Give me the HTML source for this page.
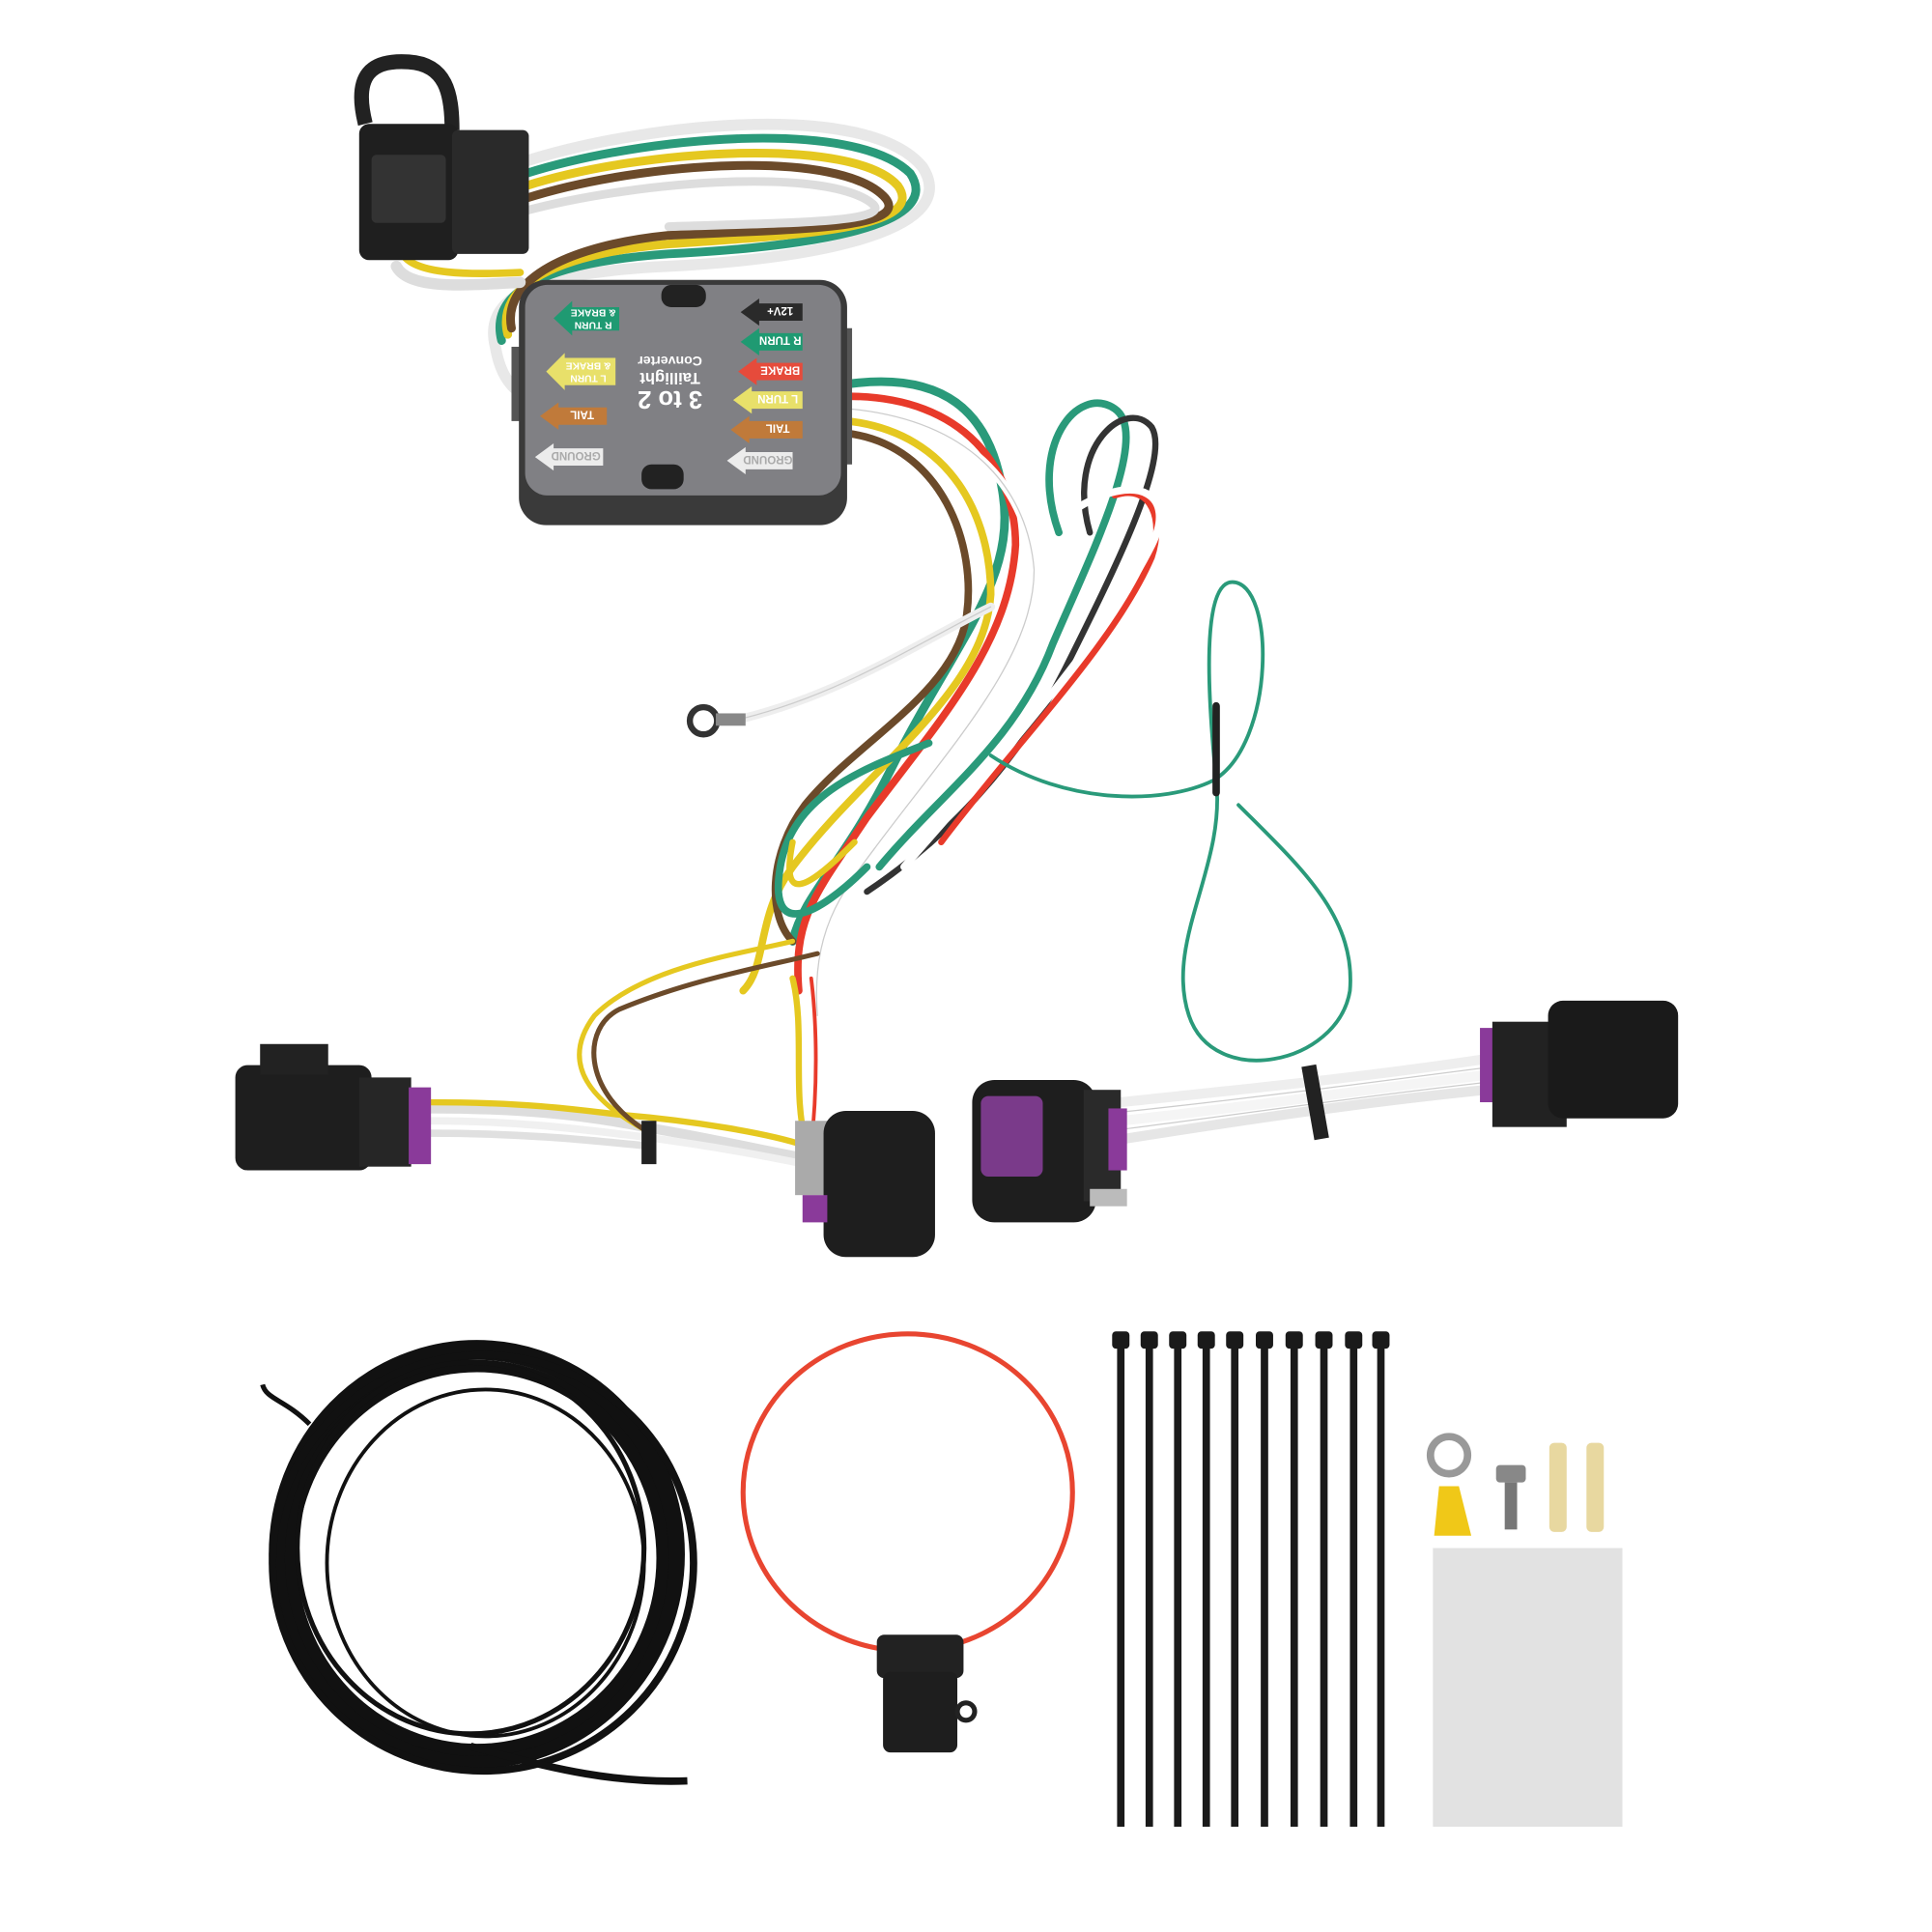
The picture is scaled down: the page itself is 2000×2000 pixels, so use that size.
<!DOCTYPE html>
<html><head><meta charset="utf-8"><style>
html,body{margin:0;padding:0;background:#fff;}
svg{display:block;}
text{font-family:"Liberation Sans",sans-serif;font-weight:bold;}
</style></head><body>
<svg width="2000" height="2000" viewBox="0 0 1560 1560" xmlns="http://www.w3.org/2000/svg">
<rect width="1560" height="1560" fill="#fff"/>
<g fill="none" stroke-linecap="round">
<path d="M425 130 C520 100 700 80 745 135 C780 190 640 210 540 215 C430 220 390 240 400 280 C405 310 420 320 430 320" stroke="#e8e8e8" stroke-width="9"/>
<path d="M425 140 C520 110 690 95 735 140 C765 185 640 200 540 205 C440 212 395 235 405 275" stroke="#2a9a7a" stroke-width="7"/>
<path d="M425 150 C520 120 690 110 725 150 C750 185 640 190 540 197 C450 205 400 230 410 270" stroke="#e5c820" stroke-width="7"/>
<path d="M425 160 C520 130 680 120 715 160 C735 185 640 185 540 190 C460 198 405 225 413 265" stroke="#6b4a2a" stroke-width="7"/>
<path d="M425 170 C520 145 670 135 705 165 C720 180 630 180 540 183" stroke="#ddd" stroke-width="7"/>
<path d="M320 215 C330 235 380 230 420 228" stroke="#ddd" stroke-width="9"/>
<path d="M325 205 C335 222 380 222 420 220" stroke="#e5c820" stroke-width="6"/>
<path d="M685 310 C760 300 800 330 810 400 C820 470 770 520 720 620 C680 700 650 720 640 760" stroke="#2a9a7a" stroke-width="7"/>
<path d="M685 320 C780 320 820 380 820 440 C815 520 760 580 700 660 C660 720 640 740 645 800" stroke="#e83a2a" stroke-width="6"/>
<path d="M685 330 C790 340 830 400 835 460 C835 530 770 600 710 680 C680 720 655 750 660 820" stroke="#fff" stroke-width="7"/>
<path d="M685 330 C790 340 830 400 835 460 C835 530 770 600 710 680 C680 720 655 750 660 820" stroke="#ccc" stroke-width="1"/>
<path d="M685 340 C770 350 800 420 800 480 C795 560 700 620 640 700 C610 740 620 780 600 800" stroke="#e5c820" stroke-width="6"/>
<path d="M685 350 C760 360 790 440 780 500 C770 560 690 600 650 650 C620 690 620 740 640 760" stroke="#6b4a2a" stroke-width="6"/>
<path d="M855 430 C830 360 870 310 900 330 C930 350 880 450 850 520 C820 600 760 640 710 700" stroke="#2a9a7a" stroke-width="6"/>
<path d="M880 430 C860 360 910 320 930 345 C945 370 900 460 860 540 C820 620 760 680 700 720" stroke="#333" stroke-width="5"/>
<path d="M900 400 C930 390 940 420 930 450 C900 520 820 600 760 680" stroke="#e83a2a" stroke-width="5"/>
<path d="M870 410 C920 380 950 400 930 440 C890 520 800 620 730 700" stroke="#fff" stroke-width="6"/>
<path d="M700 700 C660 740 620 760 630 700 C640 640 700 620 750 600" stroke="#2a9a7a" stroke-width="6"/>
<path d="M690 680 C650 720 630 730 640 680" stroke="#e5c820" stroke-width="5"/>
<path d="M600 580 C680 560 740 520 800 490" stroke="#eee" stroke-width="7"/>
<path d="M600 580 C680 560 740 520 800 490" stroke="#ccc" stroke-width="1"/>
<path d="M800 610 C860 650 940 650 980 630 C1030 600 1030 470 995 470 C970 470 975 560 982 630 C990 700 940 760 960 820 C980 880 1080 860 1090 800 C1095 740 1050 700 1000 650" stroke="#2a9a7a" stroke-width="3"/>
<path d="M982 570 L982 640" stroke="#222" stroke-width="6"/>
<path d="M345 895 C420 895 470 900 520 910 C580 920 620 930 650 935" stroke="#ddd" stroke-width="8"/>
<path d="M345 905 C420 905 470 912 520 918 C580 926 620 934 650 940" stroke="#f0f0f0" stroke-width="6"/>
<path d="M345 915 C420 915 470 920 520 925" stroke="#e0e0e0" stroke-width="6"/>
<path d="M345 890 C420 890 460 895 500 900 C560 905 620 915 650 925" stroke="#e5c820" stroke-width="5"/>
<path d="M520 912 C480 890 450 860 480 820 C520 780 600 770 640 760" stroke="#e5c820" stroke-width="4"/>
<path d="M520 912 C470 880 470 830 500 815 C560 790 620 780 660 770" stroke="#6b4a2a" stroke-width="4"/>
<path d="M650 920 C640 880 650 830 640 790" stroke="#e5c820" stroke-width="5"/>
<path d="M655 925 C660 880 660 830 655 790" stroke="#e83a2a" stroke-width="3"/>
<path d="M905 890 C1000 880 1100 870 1200 855" stroke="#eee" stroke-width="8"/>
<path d="M905 905 C1000 895 1100 880 1200 868" stroke="#f5f5f5" stroke-width="8"/>
<path d="M905 920 C1000 905 1100 890 1200 880" stroke="#e6e6e6" stroke-width="8"/>
<path d="M905 898 C1000 888 1100 875 1200 862" stroke="#ccc" stroke-width="1"/>
<path d="M905 912 C1000 900 1100 885 1200 874" stroke="#ccc" stroke-width="1"/>
</g>
<path d="M295 100 C285 60 300 48 330 50 C360 52 365 75 365 105" fill="none" stroke="#222" stroke-width="12"/>
<rect x="290" y="100" width="80" height="110" rx="8" fill="#1f1f1f"/>
<rect x="365" y="105" width="62" height="100" rx="5" fill="#2a2a2a"/>
<rect x="300" y="125" width="60" height="55" rx="4" fill="#333"/>
<!-- converter box -->
<rect x="413" y="280" width="12" height="60" fill="#555"/>
<rect x="676" y="265" width="12" height="110" fill="#555"/>
<rect x="419" y="226" width="265" height="198" rx="22" fill="#3a3a3a"/>
<rect x="424" y="230" width="255" height="170" rx="18" fill="#808084"/>
<rect x="534" y="230" width="36" height="18" rx="8" fill="#222"/>
<rect x="518" y="375" width="34" height="20" rx="8" fill="#222"/>
<text transform="rotate(180 541 323)" x="541" y="330" font-size="20" fill="#fff" text-anchor="middle">3 to 2</text>
<text transform="rotate(180 541 306)" x="541" y="311" font-size="13" fill="#fff" text-anchor="middle">Taillight</text>
<text transform="rotate(180 541 292)" x="541" y="296" font-size="11" fill="#fff" text-anchor="middle">Converter</text>
<!-- right column arrows (point left) -->
<path d="M598 252 L613 241 L613 245 L648 245 L648 259 L613 259 L613 263 Z" fill="#2a2a2a"/>
<text transform="rotate(180 630 252)" x="630" y="256" font-size="9" fill="#fff" text-anchor="middle">12V+</text>
<path d="M598 276 L613 265 L613 269 L648 269 L648 283 L613 283 L613 287 Z" fill="#1f9a72"/>
<text transform="rotate(180 630 276)" x="630" y="280" font-size="9" fill="#fff" text-anchor="middle">R TURN</text>
<path d="M596 300 L611 289 L611 293 L648 293 L648 307 L611 307 L611 311 Z" fill="#e64b3b"/>
<text transform="rotate(180 630 300)" x="630" y="304" font-size="9" fill="#fff" text-anchor="middle">BRAKE</text>
<path d="M592 323 L607 312 L607 316 L648 316 L648 330 L607 330 L607 334 Z" fill="#e8e06a"/>
<text transform="rotate(180 628 323)" x="628" y="327" font-size="9" fill="#fff" text-anchor="middle">L TURN</text>
<path d="M590 347 L605 336 L605 340 L648 340 L648 354 L605 354 L605 358 Z" fill="#c07a3a"/>
<text transform="rotate(180 628 347)" x="628" y="351" font-size="9" fill="#fff" text-anchor="middle">TAIL</text>
<path d="M587 372 L602 361 L602 365 L640 365 L640 379 L602 379 L602 383 Z" fill="#ececec"/>
<text transform="rotate(180 620 372)" x="620" y="376" font-size="9" fill="#aaa" text-anchor="middle">GROUND</text>
<!-- left column -->
<path d="M447 257 L462 243 L462 248 L500 248 L500 267 L462 267 L462 271 Z" fill="#1f9a72"/>
<text transform="rotate(180 479 257)" x="479" y="254" font-size="8" fill="#fff" text-anchor="middle">R TURN</text>
<text transform="rotate(180 479 257)" x="479" y="264" font-size="8" fill="#fff" text-anchor="middle">&amp; BRAKE</text>
<path d="M441 300 L456 285 L456 289 L497 289 L497 311 L456 311 L456 315 Z" fill="#e8e06a"/>
<text transform="rotate(180 475 300)" x="475" y="297" font-size="8" fill="#fff" text-anchor="middle">L TURN</text>
<text transform="rotate(180 475 300)" x="475" y="307" font-size="8" fill="#fff" text-anchor="middle">&amp; BRAKE</text>
<path d="M436 336 L451 325 L451 329 L490 329 L490 343 L451 343 L451 347 Z" fill="#c07a3a"/>
<text transform="rotate(180 470 336)" x="470" y="340" font-size="9" fill="#fff" text-anchor="middle">TAIL</text>
<path d="M432 369 L447 358 L447 362 L487 362 L487 376 L447 376 L447 380 Z" fill="#ececec"/>
<text transform="rotate(180 465 369)" x="465" y="373" font-size="9" fill="#aaa" text-anchor="middle">GROUND</text>
<circle cx="568" cy="582" r="11" fill="none" stroke="#333" stroke-width="5"/>
<rect x="578" y="576" width="24" height="10" fill="#888"/>
<rect x="190" y="860" width="110" height="85" rx="10" fill="#1e1e1e"/>
<rect x="210" y="843" width="55" height="25" fill="#222"/>
<rect x="290" y="870" width="42" height="72" fill="#262626"/>
<rect x="330" y="878" width="18" height="62" fill="#8a3a9a"/>
<rect x="642" y="905" width="45" height="60" fill="#aaa"/>
<rect x="665" y="897" width="90" height="118" rx="18" fill="#1e1e1e"/>
<rect x="648" y="965" width="20" height="22" fill="#8a3a9a"/>
<rect x="785" y="872" width="100" height="115" rx="18" fill="#1e1e1e"/>
<rect x="792" y="885" width="50" height="65" rx="6" fill="#7a3a8a"/>
<rect x="875" y="880" width="30" height="90" fill="#2a2a2a"/>
<rect x="895" y="895" width="15" height="50" fill="#8a3a9a"/>
<rect x="880" y="960" width="30" height="14" fill="#bbb"/>
<rect x="1195" y="830" width="18" height="60" fill="#8a3a9a"/>
<rect x="1205" y="825" width="60" height="85" fill="#222"/>
<rect x="1250" y="808" width="105" height="95" rx="12" fill="#1a1a1a"/>
<rect x="1056" y="860" width="12" height="60" fill="#222" transform="rotate(-10 1062 890)"/>
<rect x="518" y="905" width="12" height="35" fill="#222"/>
<g fill="none" stroke="#111">
<ellipse cx="385" cy="1255" rx="160" ry="165" stroke-width="16"/>
<ellipse cx="385" cy="1258" rx="150" ry="155" stroke-width="10"/>
<ellipse cx="390" cy="1262" rx="170" ry="168" stroke-width="6"/>
<ellipse cx="380" cy="1250" rx="140" ry="150" stroke-width="4"/>
<ellipse cx="392" cy="1262" rx="128" ry="140" stroke-width="3"/>
<path d="M380 1410 C450 1430 500 1440 555 1438" stroke-width="6"/>
<path d="M250 1150 C230 1130 215 1130 212 1118" stroke-width="4"/>
</g>
<ellipse cx="733" cy="1205" rx="133" ry="128" fill="none" stroke="#e84530" stroke-width="4"/>
<rect x="708" y="1320" width="70" height="35" rx="6" fill="#222"/>
<rect x="713" y="1350" width="60" height="65" rx="6" fill="#1e1e1e"/>
<circle cx="780" cy="1382" r="7" fill="none" stroke="#222" stroke-width="4"/>
<g fill="#1a1a1a">
<rect x="898" y="1075" width="14" height="14" rx="3"/><rect x="902" y="1085" width="6" height="390"/>
<rect x="921" y="1075" width="14" height="14" rx="3"/><rect x="925" y="1085" width="6" height="390"/>
<rect x="944" y="1075" width="14" height="14" rx="3"/><rect x="948" y="1085" width="6" height="390"/>
<rect x="967" y="1075" width="14" height="14" rx="3"/><rect x="971" y="1085" width="6" height="390"/>
<rect x="990" y="1075" width="14" height="14" rx="3"/><rect x="994" y="1085" width="6" height="390"/>
<rect x="1014" y="1075" width="14" height="14" rx="3"/><rect x="1018" y="1085" width="6" height="390"/>
<rect x="1038" y="1075" width="14" height="14" rx="3"/><rect x="1042" y="1085" width="6" height="390"/>
<rect x="1062" y="1075" width="14" height="14" rx="3"/><rect x="1066" y="1085" width="6" height="390"/>
<rect x="1086" y="1075" width="14" height="14" rx="3"/><rect x="1090" y="1085" width="6" height="390"/>
<rect x="1108" y="1075" width="14" height="14" rx="3"/><rect x="1112" y="1085" width="6" height="390"/>
</g>
<circle cx="1170" cy="1175" r="15" fill="none" stroke="#999" stroke-width="6"/>
<path d="M1162 1200 L1178 1200 L1188 1240 L1158 1240 Z" fill="#f0c818"/>
<rect x="1208" y="1183" width="24" height="14" rx="3" fill="#888"/>
<rect x="1215" y="1197" width="10" height="38" fill="#777"/>
<rect x="1251" y="1165" width="14" height="72" rx="4" fill="#e8d8a0"/>
<rect x="1281" y="1165" width="14" height="72" rx="4" fill="#e8d8a0"/>
<rect x="1157" y="1250" width="153" height="225" fill="#e2e2e2"/>
</svg>
</body></html>
